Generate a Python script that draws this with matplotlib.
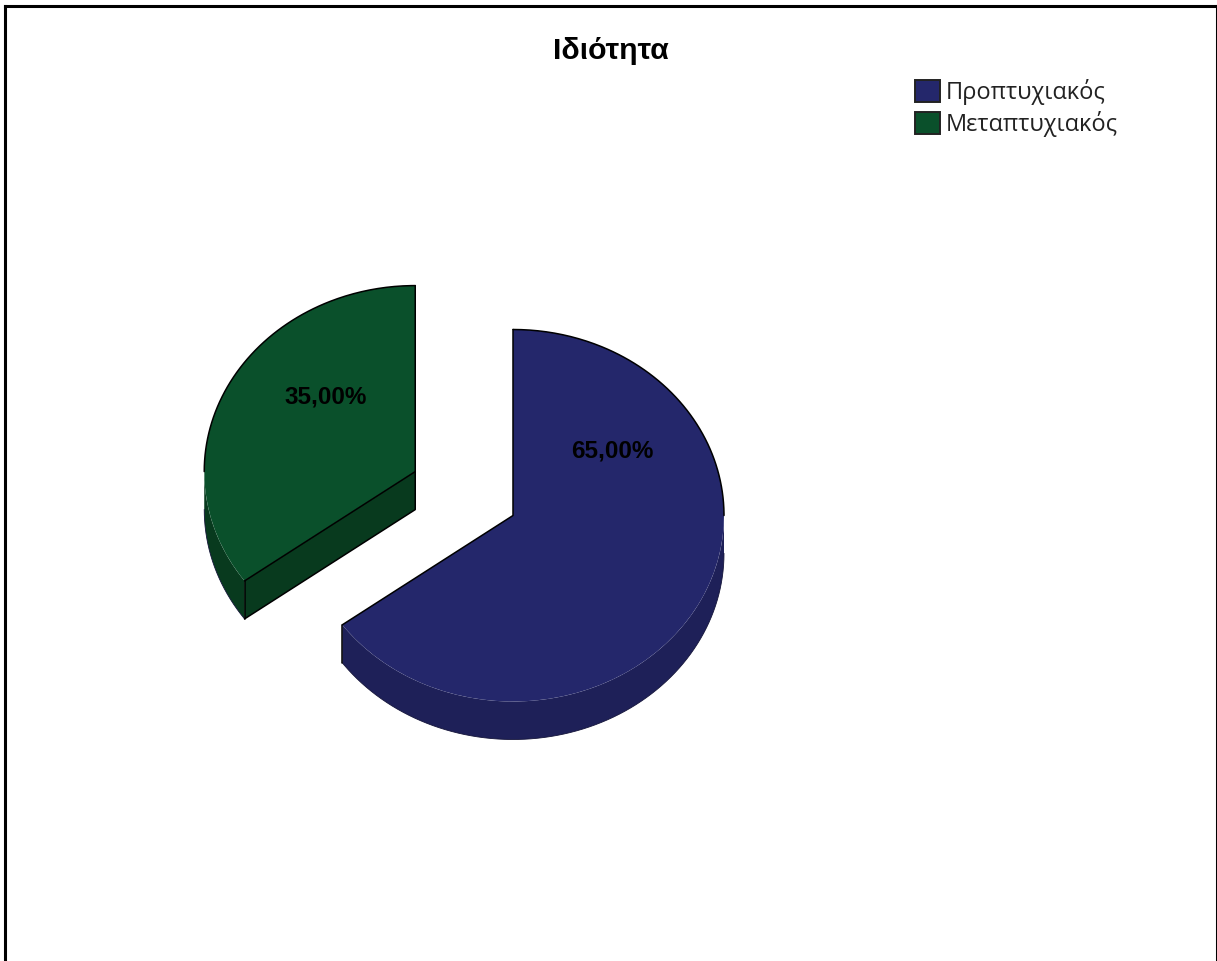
import numpy as np
import matplotlib
matplotlib.use("Agg")
import matplotlib.pyplot as plt
from matplotlib.patches import Patch

# Survey result: student status
title = "Ιδιότητα"
categories = ["Προπτυχιακός", "Μεταπτυχιακός"]
shares = [65.0, 35.0]
top_colors = ["#24276B", "#0A502B"]
wall_colors = ["#1E2058", "#083A1E"]
explode = [0.0, 0.52]

W, H = 1217, 961
fig = plt.figure(figsize=(W / 100, H / 100), dpi=100, facecolor="white")

# Axes span the bordered area; the open bottom edge runs off the figure
left_px, right_px, top_px = 5.0, 1217.0, 6.0
ax = fig.add_axes([left_px / W, 0, (right_px - left_px) / W, (H - top_px) / H])

# One data unit equals the pie radius; the two scales flatten the circle into a tilted disc
cx_px, cy_px, rx_px, ry_px = 513.0, 515.5, 211.0, 186.0
depth = 38.0 / ry_px
xlim = ((left_px - cx_px) / rx_px, (right_px - cx_px) / rx_px)
ylim = ((cy_px - H) / ry_px, (cy_px - top_px) / ry_px)


def px(x, y):
    return (x - cx_px) / rx_px, (cy_px - y) / ry_px


def arc(c, a0, a1, drop=0.0):
    """Points along a rim, angles in degrees clockwise from twelve o'clock."""
    t = np.radians(np.linspace(a0, a1, 160))
    return c[0] + np.sin(t), c[1] + np.cos(t) - drop


def outline(xs, ys):
    ax.plot(xs, ys, color="black", lw=1.1, solid_capstyle="round", zorder=5)


# Slice boundaries and exploded centres, as the pie computes them
edges = np.concatenate([[0.0], np.cumsum(shares)]) * 3.6
mids = (edges[:-1] + edges[1:]) / 2
centres = [(e * np.sin(np.radians(m)), e * np.cos(np.radians(m))) for e, m in zip(explode, mids)]

# Side walls below the top faces; their lower rim is only a faint line
for i, c in enumerate(centres):
    a0, a1 = edges[i], edges[i + 1]
    lo, hi = max(a0, 90.0), min(a1, 270.0)
    xa, ya = arc(c, lo, hi)
    xb, yb = arc(c, lo, hi, depth)
    ax.fill(np.r_[xa, xb[::-1]], np.r_[ya, yb[::-1]], color=wall_colors[i], lw=0, zorder=1)
    ax.plot(xb, yb, color="#15153a", lw=0.6, zorder=1.5)
    if a0 >= 90:
        outline([xa[0], xb[0]], [ya[0], yb[0]])
    if a1 <= 270:
        outline([xa[-1], xb[-1]], [ya[-1], yb[-1]])

# The front cut of the detached slice shows its wall
c = centres[1]
xe, ye = arc(c, edges[1], edges[1])
quad_x = [c[0], xe[0], xe[0], c[0]]
quad_y = [c[1], ye[0], ye[0] - depth, c[1] - depth]
ax.fill(quad_x, quad_y, color=wall_colors[1], lw=0, zorder=1)
outline([xe[0], c[0], c[0]], [ye[0] - depth, c[1] - depth, c[1]])

# Top faces
ax.pie(shares, colors=top_colors, explode=explode, startangle=90, counterclock=False,
       radius=1.0, center=(0, 0), wedgeprops={"linewidth": 0, "zorder": 2}, frame=True)

# Black rims on the upper half of each face and along the cuts
for i, c in enumerate(centres):
    a0, a1 = edges[i], edges[i + 1]
    if a0 < 90:
        xs, ys = arc(c, a0, 90)
        outline(xs, ys)
    if a1 > 270:
        xs, ys = arc(c, max(a0, 270), a1)
        outline(xs, ys)
    xs0, ys0 = arc(c, a0, a0)
    xs1, ys1 = arc(c, a1, a1)
    outline([xs0[0], c[0], xs1[0]], [ys0[0], c[1], ys1[0]])

# Percentage labels with decimal commas
label_px = [(612, 451), (326, 397)]
for v, (lx, ly) in zip(shares, label_px):
    tx, ty = px(lx, ly)
    ax.text(tx, ty, f"{v:.2f}".replace(".", ",") + "%", ha="center", va="center",
            family="Liberation Sans", weight="bold", fontsize=17.5, color="black", zorder=6)

ax.set_aspect("auto")
ax.set_xlim(xlim)
ax.set_ylim(ylim)
ax.set_xticks([])
ax.set_yticks([])
ax.set_frame_on(True)
ax.spines["bottom"].set_visible(False)
for side in ("left", "right", "top"):
    ax.spines[side].set_linewidth(2.2)
    ax.spines[side].set_color("black")

tx, ty = px(610.5, 51)
ax.text(tx, ty, title, ha="center", va="center", family="Liberation Sans", weight="bold",
        fontsize=21.8, color="black")

handles = [Patch(facecolor=col, edgecolor="#222222", linewidth=1.4) for col in top_colors]
fig.legend(handles, categories, loc="upper left", bbox_to_anchor=(908 / W, 1 - 72 / H),
           frameon=False, prop={"family": "Open Sans", "size": 17},
           handlelength=1.06, handleheight=1.06, handletextpad=0.22,
           labelspacing=0.27, labelcolor="#222222", borderaxespad=0, borderpad=0.3)

fig.savefig("out.png", dpi=100, facecolor="white")
